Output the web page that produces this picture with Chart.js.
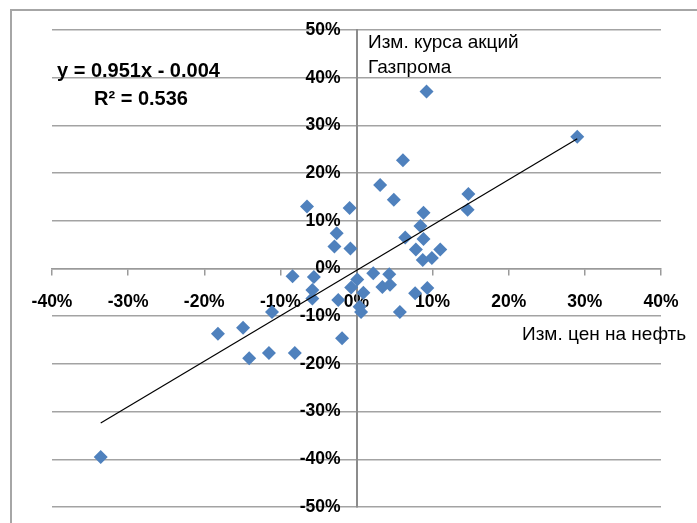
<!DOCTYPE html>
<html>
<head>
<meta charset="utf-8">
<script src="https://cdn.jsdelivr.net/npm/chart.js@4.4.0/dist/chart.umd.min.js"></script>
<style>
  html, body { margin: 0; padding: 0; background: #fff; }
  #wrap { position: relative; width: 697px; height: 523px; overflow: hidden; }
  #frame { position: absolute; left: 10px; top: 9px; width: 800px; height: 600px;
           border-left: 2px solid #a6a6a6; border-top: 2px solid #a6a6a6; }
  #chart { position: absolute; left: 0; top: 0; }
</style>
</head>
<body>
<div id="wrap">
  <div id="frame"></div>
  <canvas id="chart" width="697" height="523"></canvas>
</div>
<script>
// monthly change, % (x: oil price, y: Gazprom share price)
const oilChange = [
  -33.6, 29.0, 9.2, 6.1, 3.1, 4.9, 14.7, 14.6, 8.8, 8.4,
  6.4, 8.8, 7.8, 11.0, 9.9, 8.7, -6.5, -0.9, -2.6, -2.9,
  -0.8, -8.4, -5.6, -5.8, -5.8, -2.4, 0.1, -0.7, 0.9, 0.4,
  0.6, 2.2, 4.3, 3.4, 4.4, 5.7, 7.7, 9.3, -18.2, -14.9,
  -11.1, -14.1, -11.5, -8.1, -1.9
];
const gazpromChange = [
  -39.5, 27.6, 37.1, 22.7, 17.5, 14.4, 15.6, 12.3, 11.7, 8.9,
  6.5, 6.2, 4.0, 4.0, 2.2, 1.8, 13.0, 12.7, 7.4, 4.6,
  4.2, -1.6, -1.8, -4.5, -6.3, -6.6, -2.3, -4.0, -5.1, -8.0,
  -9.1, -1.0, -1.2, -3.9, -3.4, -9.1, -5.2, -4.1, -13.7, -12.4,
  -9.1, -18.8, -17.7, -17.7, -14.6
];

// linear trend as printed on the chart
const trendSlope = 0.951;
const trendIntercept = -0.004;
const trendR2 = 0.536;
const trendX = [-33.6, 29.0];
const trendY = [-32.4, 27.2];

const xTitle = 'Изм. цен на нефть';
const yTitle = ['Изм. курса акций', 'Газпрома'];

const FONT = '"Liberation Sans", Arial, sans-serif';

const points = oilChange.map((x, i) => ({ x, y: gazpromChange[i] }));
const trend = trendX.map((x, i) => ({ x, y: trendY[i] }));

const textPlugin = {
  id: 'chartText',
  afterDraw(chart) {
    const ctx = chart.ctx;
    ctx.save();
    ctx.fillStyle = '#000';
    ctx.textAlign = 'left';
    ctx.textBaseline = 'middle';
    ctx.font = 'bold 20px ' + FONT;
    ctx.fillText('y = ' + trendSlope + 'x - ' + Math.abs(trendIntercept).toFixed(3), 57, 71);
    ctx.fillText('R² = ' + trendR2, 94, 99);
    ctx.font = '19px ' + FONT;
    ctx.fillText(yTitle[0], 368, 43);
    ctx.fillText(yTitle[1], 368, 68);
    ctx.fillText(xTitle, 522, 335);
    ctx.restore();
  }
};

new Chart(document.getElementById('chart'), {
  type: 'scatter',
  data: {
    datasets: [
      {
        label: 'data',
        data: points,
        pointStyle: 'rectRot',
        pointRadius: 7,
        pointHoverRadius: 7,
        backgroundColor: '#4f81bd',
        borderColor: '#4f81bd',
        borderWidth: 0,
        order: 2,
      },
      {
        type: 'line',
        label: 'trend',
        data: trend,
        borderColor: '#000',
        borderWidth: 1.2,
        pointRadius: 0,
        fill: false,
        order: 1,
      },
    ],
  },
  options: {
    responsive: false,
    animation: false,
    layout: { padding: { left: 52, top: 30, right: 36, bottom: 16 } },
    plugins: { legend: { display: false }, tooltip: { enabled: false } },
    scales: {
      x: {
        type: 'linear',
        position: 'center',
        min: -40, max: 40,
        grid: { drawOnChartArea: false, drawTicks: true, tickLength: 6, color: '#9a9a9a', lineWidth: 1.5 },
        border: { display: true, color: '#9a9a9a', width: 1.5 },
        ticks: {
          stepSize: 10, padding: 6, maxRotation: 0,
          color: '#000', font: { family: FONT, size: 17.5, weight: 'bold', lineHeight: 2.5 },
          callback: v => v + '%',
        },
      },
      y: {
        type: 'linear',
        position: 'center',
        min: -50, max: 50,
        grid: { drawTicks: true, tickLength: 16, tickColor: 'rgba(0,0,0,0)', color: '#a3a3a3', lineWidth: 1.5 },
        border: { display: true, color: '#8c8c8c', width: 2 },
        ticks: {
          stepSize: 10, padding: 0,
          color: '#000', font: { family: FONT, size: 17.5, weight: 'bold' },
          callback: v => v + '%',
        },
      },
    },
  },
  plugins: [textPlugin],
});
</script>
</body>
</html>
